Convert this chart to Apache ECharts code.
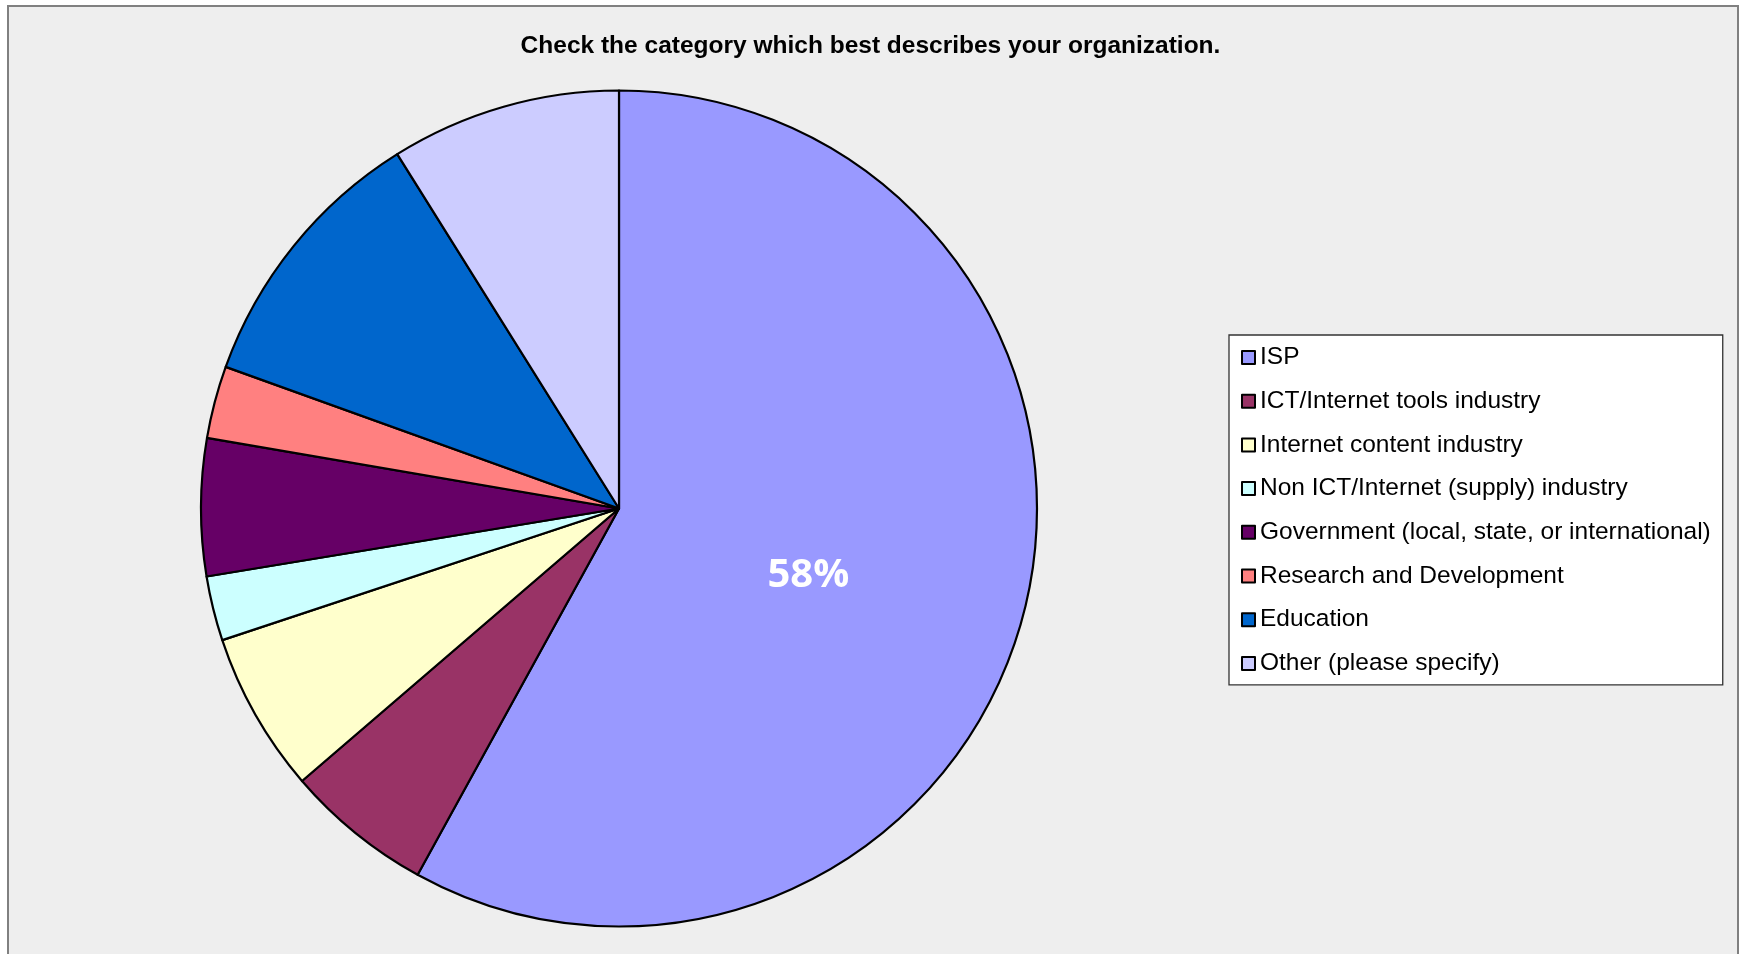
<!DOCTYPE html>
<html lang="en">
<head>
    <meta charset="UTF-8">
    <title>Organization category</title>
    <script src="https://cdn.jsdelivr.net/npm/echarts@6/dist/echarts.min.js"></script>
    <style>
        html, body{
            margin: 0;
            padding: 0;
            background: #fff;
        }
        #frame{
            position: absolute;
            left: 7px;
            top: 5px;
            width: 1728px;
            height: 970px;
            border: 2px solid #808080;
            background: #eeeeee;
        }
        #box{
            position: absolute;
            left: 0;
            top: 0;
            width: 1741px;
            height: 954px;
        }
    </style>
</head>
<body>
<div id="frame"></div>
<div id="box"></div>
<script>
    // categories and shares (percent)
    var categories = [
        'ISP',
        'ICT/Internet tools industry',
        'Internet content industry',
        'Non ICT/Internet (supply) industry',
        'Government (local, state, or international)',
        'Research and Development',
        'Education',
        'Other (please specify)'
    ];
    var shares = [58, 5.7, 6.2, 2.5, 5.3, 2.8, 10.6, 8.9];
    var colors = ['#9999FF', '#993366', '#FFFFCC', '#CCFFFF', '#660066', '#FF8080', '#0066CC', '#CCCCFF'];
    // only the biggest slice carries a label
    var labelShown = [true, false, false, false, false, false, false, false];

    var pieData = [];
    for(var i=0; i<categories.length; i++){
        pieData.push({
            name: categories[i],
            value: shares[i],
            itemStyle: {color: colors[i]},
            label: {show: labelShown[i]}
        });
    }

    var myChart = echarts.init(document.getElementById('box'));
    var option = {
        animation: false,
        backgroundColor: 'transparent',
        title: {
            text: 'Check the category which best describes your organization.',
            left: 'center',
            top: 29,
            textStyle: {
                fontFamily: 'Liberation Sans',
                fontWeight: 'bold',
                fontSize: 24.5,
                color: '#000'
            }
        },
        legend: {
            orient: 'vertical',
            left: 1229,
            top: 335,
            backgroundColor: '#fff',
            borderColor: '#333',
            borderWidth: 1.3,
            borderRadius: 0,
            padding: [10, 12, 9, 12],
            itemWidth: 13,
            itemHeight: 13,
            itemGap: 18.7,
            icon: 'rect',
            itemStyle: {
                borderColor: '#000',
                borderWidth: 2
            },
            textStyle: {
                fontFamily: 'Liberation Sans',
                fontSize: 24.5,
                lineHeight: 24.5,
                color: '#000',
                padding: [0, 0, 0, 0]
            },
            data: categories
        },
        series: [
            {
                type: 'pie',
                center: [619, 508.5],
                radius: 418,
                startAngle: 90,
                clockwise: true,
                avoidLabelOverlap: false,
                itemStyle: {
                    borderColor: '#000',
                    borderWidth: 2.2
                },
                label: {
                    position: 'inside',
                    offset: [-16, 14],
                    formatter: function(p){
                        return Math.round(p.percent) + '%';
                    },
                    color: '#fff',
                    fontFamily: 'Open Sans',
                    fontWeight: 'bold',
                    fontSize: 40
                },
                labelLine: {show: false},
                emphasis: {disabled: true},
                data: pieData
            }
        ]
    };
    myChart.setOption(option);
</script>
</body>
</html>
